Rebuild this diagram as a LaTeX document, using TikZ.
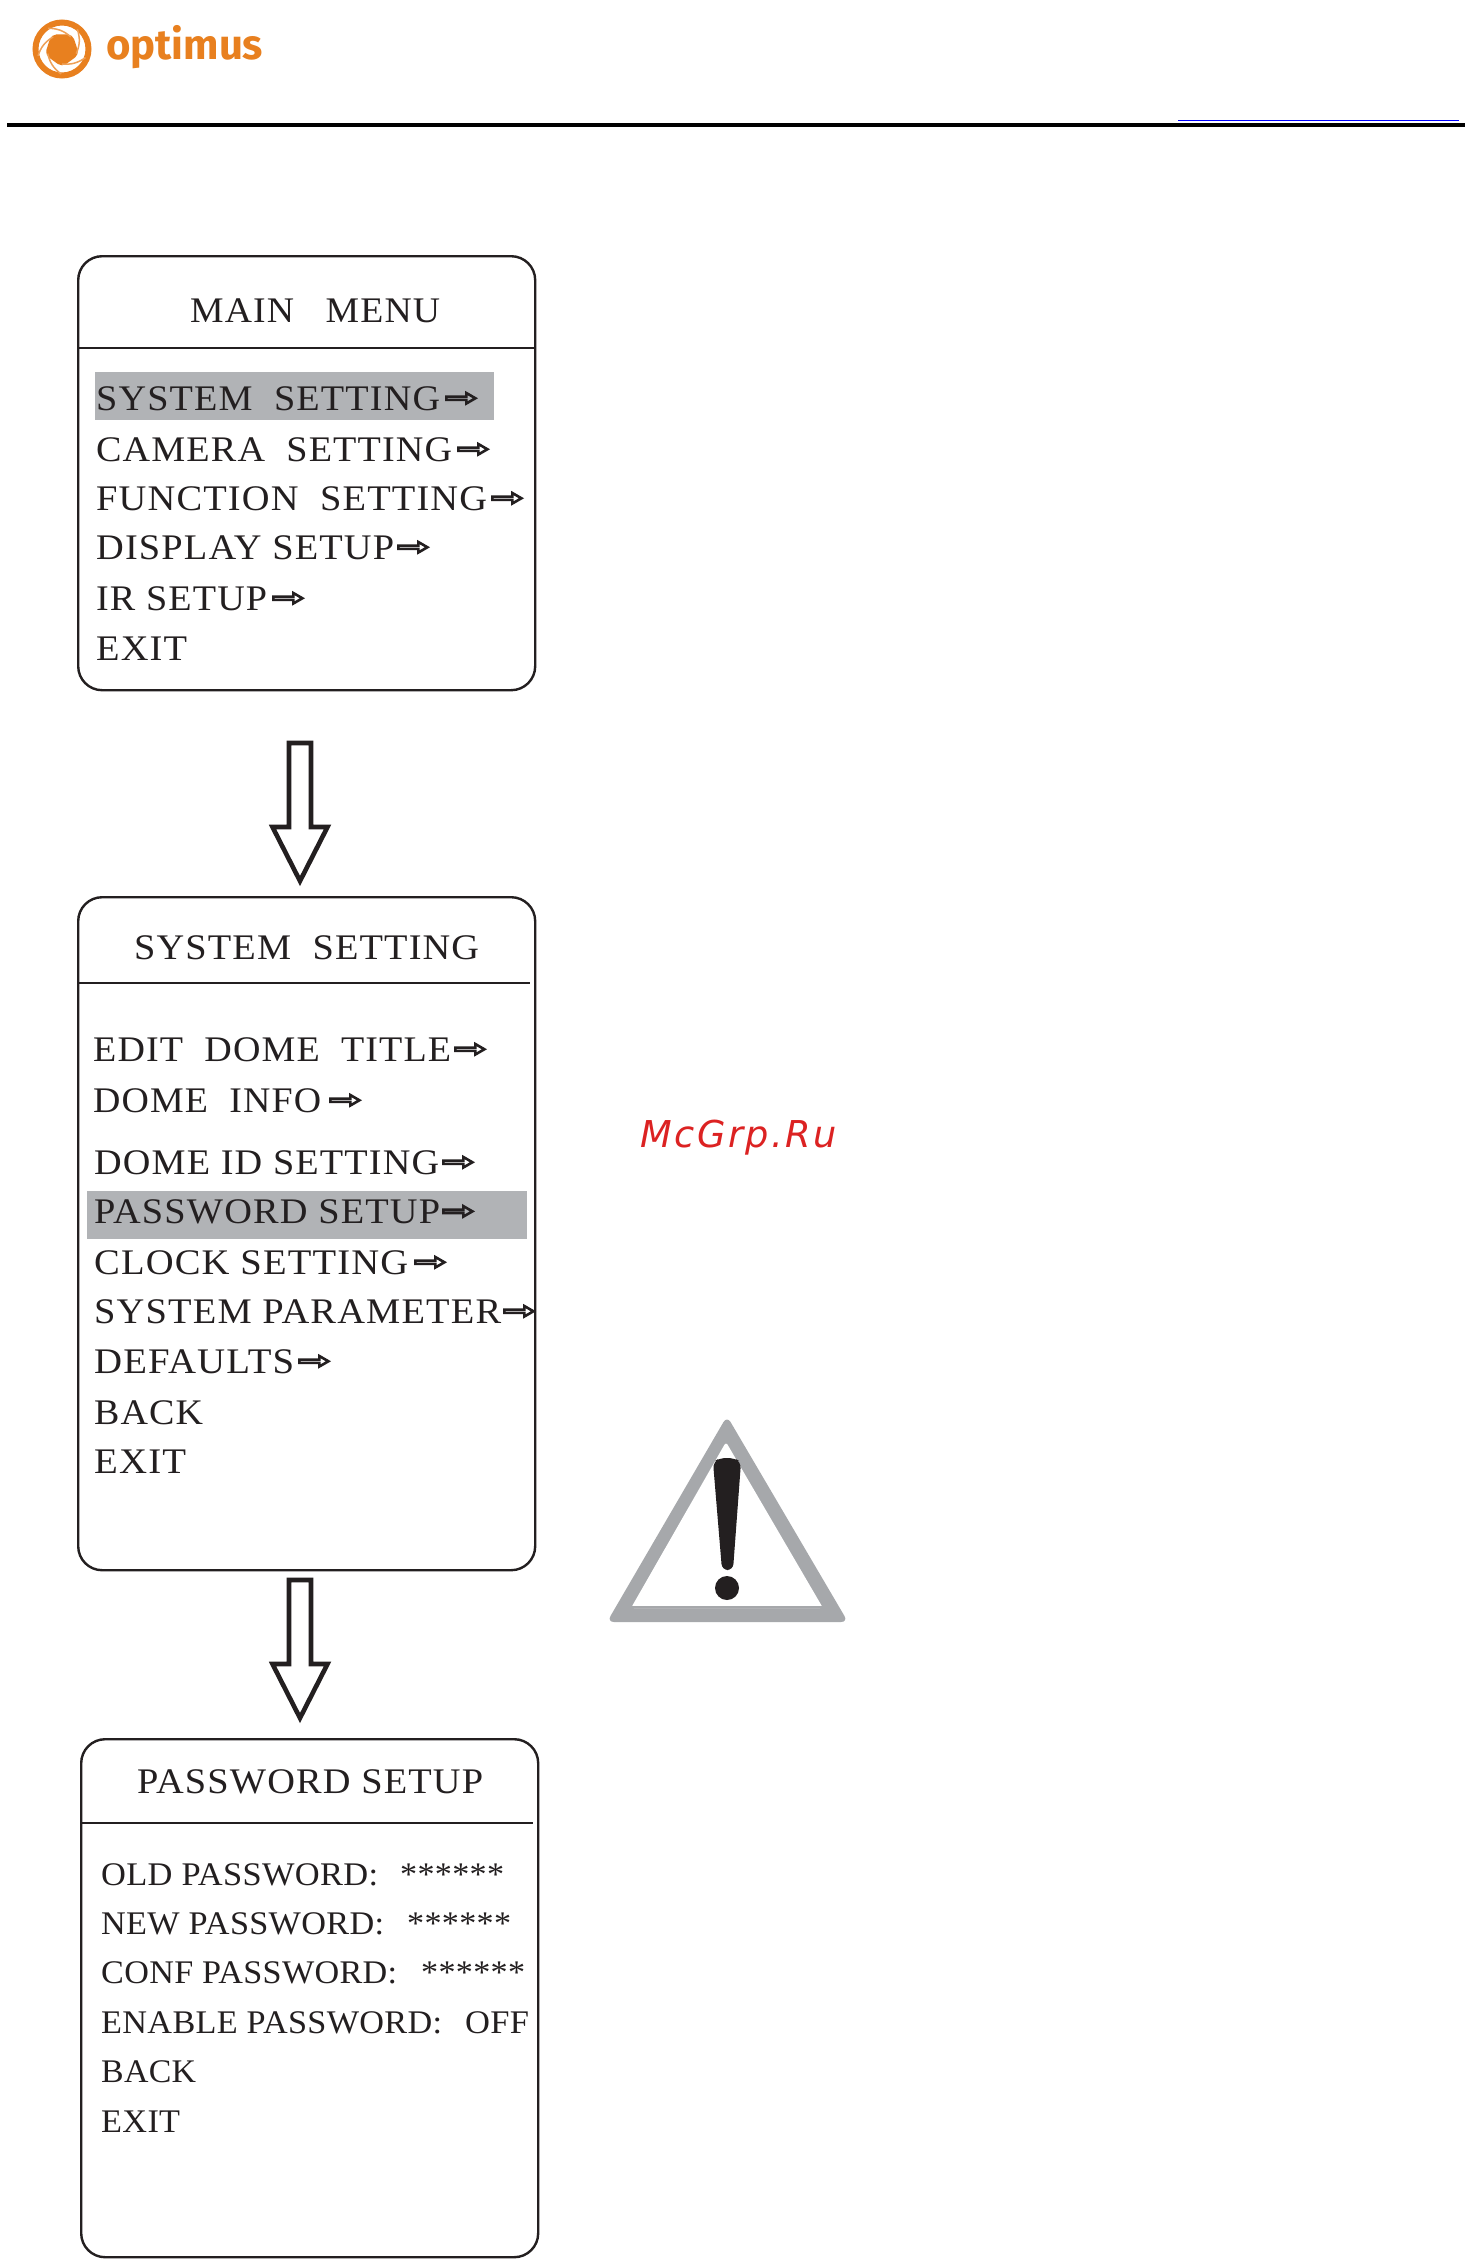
\documentclass[tikz,border=0pt]{standalone}
\usepackage{fontspec}
\usepackage{graphicx}
\usetikzlibrary{calc}
\setmainfont[LetterSpace=3]{Liberation Serif}
\newfontfamily\plainserif[LetterSpace=1]{Liberation Serif}
\newfontfamily\wmfont[LetterSpace=7]{DejaVu Sans}
\newfontfamily\logofont{Fira Sans}
\definecolor{ink}{HTML}{231F20}
\definecolor{hl}{HTML}{B1B3B6}
\definecolor{warn}{HTML}{A6A8AB}
\definecolor{logoorange}{HTML}{E8801F}
\definecolor{wmred}{HTML}{DC2222}
\newcommand{\fitw}[2]{\resizebox{#1pt}{\height}{#2}}
\tikzset{
  x=1pt,y=-1pt,
  menubox/.style={draw=ink,line width=2.4pt,rounded corners=24pt,inner sep=0pt,anchor=north west},
  headline/.style={draw=ink,line width=2.2pt},
  highlight/.style={fill=hl,draw=none},
  itemlarge/.style={anchor=base west,inner sep=0pt,yshift=-12pt,text=ink,font=\fontsize{36}{40}\selectfont},
  itemsmall/.style={anchor=base west,inner sep=0pt,yshift=-11.3pt,text=ink,font=\fontsize{33}{38}\plainserif\selectfont},
  smallarrow/.style={draw=ink,line width=2.6pt,line join=miter},
  bigarrow/.style={draw=ink,line width=4.6pt,line join=miter,fill=white},
}
% menu text that ends in a small hollow arrow
\newcommand{\arrowafter}[2]{%
  \draw[smallarrow] ([xshift=#2pt]#1.east) ++(0,-1.6) -- ++(20,0) -- ++(0,-3.6) -- ++(9,5.2) -- ++(-9,5.2) -- ++(0,-3.6) -- ++(-20,0) -- cycle;}
\newcommand{\blockarrow}[1]{%
  \draw[bigarrow] (#1) -- ++(22,0) -- ++(0,84) -- ++(16.5,0) -- ++(-27.5,54) -- ++(-27.5,-54) -- ++(16.5,0) -- cycle;}
\begin{document}
\begin{tikzpicture}
\useasboundingbox (0,0) rectangle (1465,2264);
\fill[white] (0,0) rectangle (1465,2264);

% header
\coordinate (ruleL) at (7,125);
\coordinate (ruleR) at (1465,125);
\draw[black,line width=3.4pt] (ruleL) -- (ruleR);
\coordinate (blueL) at (1178,120.3);
\coordinate (blueR) at (1459,120.3);
\draw[blue,line width=1pt] (blueL) -- (blueR);

% logo
\coordinate (logoC) at (62,49);
\draw[logoorange,line width=6pt] (logoC) circle (26.5);
\fill[logoorange,rounded corners=5pt] ($(logoC)+(18:18)$) -- ($(logoC)+(90:18)$) -- ($(logoC)+(162:18)$) -- ($(logoC)+(234:18)$) -- ($(logoC)+(306:18)$) -- cycle;
\foreach \a in {20,92,164,236,308}{
  \draw[logoorange!75,line width=1.5pt] ($(logoC)+(\a:25)$) to[bend left=20] ($(logoC)+(\a+70:15)$);
}
\node[anchor=base west,inner sep=0pt,text=logoorange,font=\fontsize{42}{46}\logofont\bfseries\selectfont] (logotext) at (106,60) {\fitw{157}{optimus}};

% watermark
\node[anchor=base west,inner sep=0pt,text=wmred,font=\fontsize{37}{42}\wmfont\itshape\selectfont] (wm) at (640,1147) {\fitw{197}{McGrp.Ru}};

% box 1
\fill[highlight] (95,372) rectangle (494,420);
\node[menubox,minimum width=457pt,minimum height=434pt] (box1) at (77,255) {};
\coordinate (h1L) at (79,348); \coordinate (h1R) at (534,348);
\draw[headline] (h1L) -- (h1R);
\node[itemlarge] (t1) at (190,310) {\fitw{250}{MAIN\ \ \ MENU}};
\node[itemlarge] (a1) at (96,398) {\fitw{344}{SYSTEM\ \ SETTING}};
\node[itemlarge] (a2) at (96,449) {\fitw{356}{CAMERA\ \ SETTING}};
\node[itemlarge] (a3) at (96,498) {\fitw{391}{FUNCTION\ \ SETTING}};
\node[itemlarge] (a4) at (96,547) {\fitw{298}{DISPLAY SETUP}};
\node[itemlarge] (a5) at (96,598) {\fitw{171}{IR SETUP}};
\node[itemlarge] (a6) at (96,648) {\fitw{91}{EXIT}};
\arrowafter{a1}{6}\arrowafter{a2}{6}\arrowafter{a3}{5}\arrowafter{a4}{4}\arrowafter{a5}{6}

% block arrow 1
\coordinate (ba1) at (289,743);
\blockarrow{ba1}

% box 2
\fill[highlight] (87,1191) rectangle (527,1239);
\node[menubox,minimum width=457pt,minimum height=673pt] (box2) at (77,896) {};
\coordinate (h2L) at (79,983); \coordinate (h2R) at (530,983);
\draw[headline] (h2L) -- (h2R);
\node[itemlarge] (t2) at (134,947) {\fitw{345}{SYSTEM\ \ SETTING}};
\node[itemlarge] (b1) at (93,1049) {\fitw{358}{EDIT\ \ DOME\ \ TITLE}};
\node[itemlarge] (b2) at (93,1100) {\fitw{228}{DOME\ \ INFO}};
\node[itemlarge] (b3) at (94,1162) {\fitw{345}{DOME ID SETTING}};
\node[itemlarge] (b4) at (94,1211) {\fitw{346}{PASSWORD SETUP}};
\node[itemlarge] (b5) at (94,1262) {\fitw{314}{CLOCK SETTING}};
\node[itemlarge] (b6) at (94,1311) {\fitw{407}{SYSTEM PARAMETER}};
\node[itemlarge] (b7) at (94,1361) {\fitw{200}{DEFAULTS}};
\node[itemlarge] (b8) at (94,1412) {\fitw{109}{BACK}};
\node[itemlarge] (b9) at (94,1461) {\fitw{92}{EXIT}};
\arrowafter{b1}{4}\arrowafter{b2}{9}\arrowafter{b3}{4}\arrowafter{b4}{3}\arrowafter{b5}{7}\arrowafter{b6}{3}\arrowafter{b7}{5}

% block arrow 2
\coordinate (ba2) at (289,1580);
\blockarrow{ba2}

% box 3
\node[menubox,minimum width=457pt,minimum height=518pt] (box3) at (80,1738) {};
\coordinate (h3L) at (82,1823); \coordinate (h3R) at (533,1823);
\draw[headline] (h3L) -- (h3R);
\node[itemlarge] (t3) at (137,1781) {\fitw{346}{PASSWORD SETUP}};
\node[itemsmall] (c1) at (101,1874) {\fitw{277}{OLD PASSWORD:}};
\node[itemsmall] (s1) at (400,1874) {\fitw{104}{******}};
\node[itemsmall] (c2) at (101,1923) {\fitw{283}{NEW PASSWORD:}};
\node[itemsmall] (s2) at (407,1923) {\fitw{104}{******}};
\node[itemsmall] (c3) at (101,1972) {\fitw{296}{CONF PASSWORD:}};
\node[itemsmall] (s3) at (421,1972) {\fitw{104}{******}};
\node[itemsmall] (c4) at (101,2022) {\fitw{341}{ENABLE PASSWORD:}};
\node[itemsmall] (s4) at (465,2022) {\fitw{64}{OFF}};
\node[itemsmall] (c5) at (101,2071) {\fitw{95}{BACK}};
\node[itemsmall] (c6) at (101,2121) {\fitw{79}{EXIT}};

% warning sign
\fill[warn,rounded corners=7pt] (727,1416) -- (848,1622) -- (607,1622) -- cycle;
\fill[white,rounded corners=3pt] (726,1442) -- (823,1608) -- (631,1608) -- cycle;
\fill[warn] (632,1606) rectangle (822,1607.5);
\fill[ink,rounded corners=6pt] (713,1462) -- (720,1458) -- (734,1458) -- (741,1462) -- (733,1570) -- (722,1570) -- cycle;
\fill[ink] (727,1588) circle (12);
\end{tikzpicture}
\end{document}
